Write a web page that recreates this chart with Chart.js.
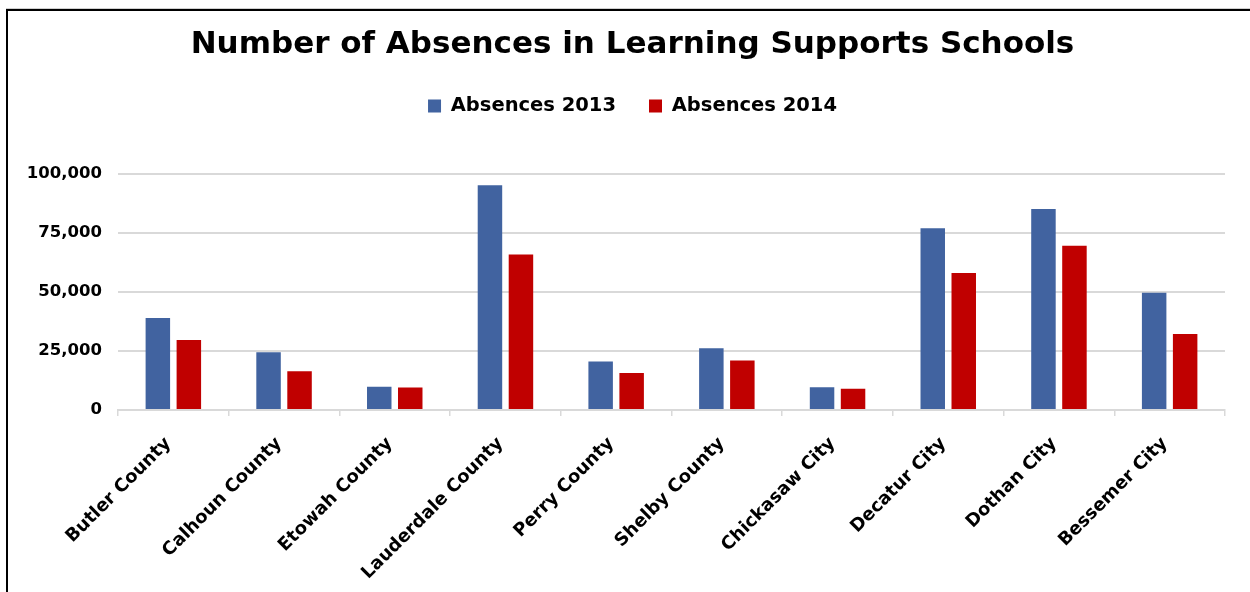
<!DOCTYPE html>
<html>
<head>
<meta charset="utf-8">
<title>Number of Absences in Learning Supports Schools</title>
<script src="https://cdn.jsdelivr.net/npm/chart.js@4/dist/chart.umd.min.js"></script>
<style>
  html, body { margin: 0; padding: 0; background: #fff; overflow: hidden; }
  #frame {
    position: absolute; left: 6px; top: 9px; width: 1300px; height: 700px;
    border: 2px solid #000; box-shadow: 0 -1px 0 #d0d0d0;
  }
  #absChart { position: absolute; left: 0; top: 0; }
</style>
</head>
<body>
<div id="frame"></div>
<canvas id="absChart" width="1250" height="592"></canvas>
<script>
// chart data
var schools = ["Butler County", "Calhoun County", "Etowah County", "Lauderdale County", "Perry County",
    "Shelby County", "Chickasaw City", "Decatur City", "Dothan City", "Bessemer City"];
var absences2013 = [39000, 24500, 9900, 95300, 20600, 26200, 9700, 77100, 85200, 49700];
var absences2014 = [29700, 16400, 9500, 65900, 15700, 21000, 9000, 58100, 69700, 32200];
var yTicks = [0, 25000, 50000, 75000, 100000];

var fontFamily = "'DejaVu Sans', Lato, sans-serif";

var ctx = document.getElementById("absChart");

var absChart = new Chart(ctx, {
    type: 'bar',
    plugins: [
        {
            beforeInit: (chart) => {
                // fix the legend height so the plot starts where the reference does
                var legend = chart.legend;
                var origFit = legend.fit;
                legend.fit = function () {
                    origFit.call(this);
                    this.height = 111;
                };
            }
        }
    ],
    data: {
        labels: schools,
        datasets: [{
            label: "Absences 2013",
            data: absences2013,
            backgroundColor: "#4163a0",
            borderWidth: 0
        }, {
            label: "Absences 2014",
            data: absences2014,
            backgroundColor: "#c00000",
            borderWidth: 0
        }]
    },
    options: {
        responsive: false,
        animation: false,
        devicePixelRatio: 1,
        // left padding pushes title/legend centre right, like the original
        layout: { padding: { left: 40, right: 25, top: 0, bottom: 0 } },
        datasets: {
            bar: { categoryPercentage: 0.56, barPercentage: 0.79 }
        },
        plugins: {
            title: {
                display: true,
                text: "Number of Absences in Learning Supports Schools",
                color: "#000",
                font: { family: fontFamily, size: 31, weight: "bold" },
                padding: { top: 26, bottom: 0 }
            },
            legend: {
                display: true,
                labels: {
                    color: "#000",
                    font: { family: fontFamily, size: 19.5, weight: "bold" },
                    boxWidth: 13,
                    boxHeight: 13,
                    padding: 33
                }
            },
            tooltip: { enabled: false }
        },
        scales: {
            x: {
                afterFit: function (scale) { scale.height = 182; },
                grid: {
                    offset: true,
                    drawOnChartArea: false,
                    drawTicks: true,
                    tickLength: 6,
                    color: "#d9d9d9",
                    lineWidth: 1.5
                },
                border: { display: true, color: "#d9d9d9", width: 2 },
                ticks: {
                    color: "#000",
                    font: { family: fontFamily, size: 18, weight: "bold" },
                    minRotation: 45,
                    maxRotation: 45,
                    autoSkip: false,
                    padding: 17,
                    labelOffset: -5
                }
            },
            y: {
                min: 0,
                max: 100000,
                afterFit: function (scale) {
                    scale.width = 78;
                    // labels run past the narrow scale box, so don't clip them
                    scale._computeLabelArea = function () { return undefined; };
                },
                afterBuildTicks: function (scale) {
                    scale.ticks = yTicks.map(v => ({ value: v }));
                },
                grid: {
                    drawTicks: false,
                    color: "#d9d9d9",
                    lineWidth: 2
                },
                border: { display: false },
                ticks: {
                    color: "#000",
                    font: { family: fontFamily, size: 16.5, weight: "bold" },
                    padding: 16,
                    callback: function (v) { return v.toLocaleString("en-US"); }
                }
            }
        }
    }
});
</script>
</body>
</html>
